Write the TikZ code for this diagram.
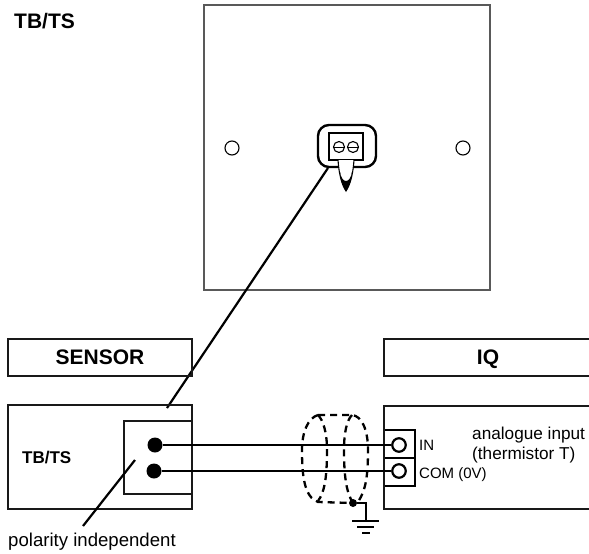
\documentclass[tikz,border=0pt]{standalone}
\usepackage{fontspec}
\setmainfont{Liberation Sans}
\begin{document}
\begin{tikzpicture}[x=1pt,y=-1pt,
  thin line/.style={draw=black!65,line width=1.2pt},
  mid line/.style={draw=black!90,line width=1.8pt},
  wire/.style={draw=black,line width=2.7pt},
  shield/.style={draw=black,line width=2.3pt,dash pattern=on 7pt off 5pt},
  bold big/.style={font=\fontsize{21}{24}\selectfont\bfseries,inner sep=0pt,anchor=base},
  bold mid/.style={font=\fontsize{17}{20}\selectfont\bfseries,inner sep=0pt,anchor=base west},
  small label/.style={font=\fontsize{15}{17}\selectfont,inner sep=0pt,anchor=base west},
  note label/.style={font=\fontsize{17.2}{20}\selectfont,inner sep=0pt,anchor=base west},
  hole/.style={circle,draw=black,line width=1.1pt,minimum size=14pt,inner sep=0pt},
  screw/.style={circle,draw=black,line width=1.1pt,minimum size=11pt,inner sep=0pt},
  dot/.style={circle,fill=black,minimum size=15pt,inner sep=0pt},
  term/.style={circle,draw=black,fill=white,line width=2.2pt,minimum size=13.5pt,inner sep=0pt}]
\useasboundingbox (0,0) rectangle (589,554);
% plate
\draw[thin line] (204,5) rectangle (490,290);
\node[hole] (h1) at (232,148) {};
\node[hole] (h2) at (463,148) {};
\node[bold big,anchor=base west] (t1) at (14,28) {TB/TS};
% connector
\draw[line width=2.4pt,rounded corners=11pt] (318,125) rectangle (376,167);
\draw[line width=1.4pt] (329,133) rectangle (363,160);
\node[screw] (s1) at (339,147) {};
\node[screw] (s2) at (353,147) {};
\draw[line width=1pt] (s1.west) -- (s1.east);
\draw[line width=1pt] (s2.west) -- (s2.east);
\draw[line width=1.1pt,fill=white] (338,160) .. controls (339,175) and (342,185) .. (346,191) .. controls (350,185) and (353,175) .. (354,160);
\fill (340,172) .. controls (342,184) and (350,184) .. (352,172) .. controls (351,181) and (349,187) .. (346,191) .. controls (343,187) and (341,181) .. (340,172) -- cycle;
\coordinate (la) at (328,168);
\coordinate (lb) at (167,408);
\draw[line width=2.2pt] (la) -- (lb);
% headers
\draw[mid line] (8,339) rectangle (192,376);
\node[bold big] (sn) at (100,364) {SENSOR};
\draw[mid line] (589,339) -- (384,339) -- (384,376) -- (589,376);
\node[bold big] (iqt) at (488,364) {IQ};
% sensor box
\draw[mid line] (8,405) rectangle (192,509);
\draw[mid line] (192,421) -- (124,421) -- (124,494) -- (192,494);
\node[bold mid] (t2) at (22,463) {TB/TS};
% IQ box
\draw[mid line] (589,406) -- (384,406) -- (384,509) -- (589,509);
\draw[line width=2.1pt] (385,430) -- (415,430) -- (415,486) -- (385,486);
\draw[line width=2.1pt] (385,458) -- (415,458);
% wires
\node[dot] (d1) at (155,445) {};
\node[dot] (d2) at (154,471) {};
\node[term] (t1a) at (399,445) {};
\node[term] (t2a) at (399,471) {};
\draw[wire] (d1) -- (t1a);
\draw[wire] (d2) -- (t2a);
% shield
\draw[shield] (318,415) .. controls (308,418) and (302,432) .. (302,450) .. controls (302,475) and (304,497) .. (318,502) -- (353,503);
\draw[shield] (318,415) -- (352,415) .. controls (362,416) and (368,430) .. (368,450) .. controls (368,475) and (366,490) .. (358,502);
\draw[shield] (318,415) .. controls (323,420) and (327,432) .. (327,450) .. controls (327,475) and (325,492) .. (318,501);
\draw[shield] (352,415) .. controls (347,420) and (344,432) .. (344,450) .. controls (344,475) and (346,492) .. (353,503);
% ground
\node[circle,fill=black,minimum size=8pt,inner sep=0pt] (gd) at (353,503) {};
\coordinate (gc) at (366,503);
\coordinate (ge) at (366,521);
\draw[line width=2.1pt] (gd) -- (gc) -- (ge);
\draw[line width=2.4pt] (352,521) -- (379,521);
\draw[line width=2.4pt] (357,527) -- (374,527);
\draw[line width=2.4pt] (362,533) -- (370,533);
% labels
\node[small label] (in) at (419,450) {IN};
\node[small label] (com) at (419,478) {COM (0V)};
\node[note label] (an) at (472,439) {analogue input};
\node[note label] (th) at (472,459) {(thermistor T)};
\coordinate (pa) at (135,460);
\coordinate (pb) at (83,526);
\draw[line width=2.2pt] (pa) -- (pb);
\node[font=\fontsize{18.6}{20}\selectfont,inner sep=0pt,anchor=base west] (pol) at (8,546) {polarity independent};
\end{tikzpicture}
\end{document}
